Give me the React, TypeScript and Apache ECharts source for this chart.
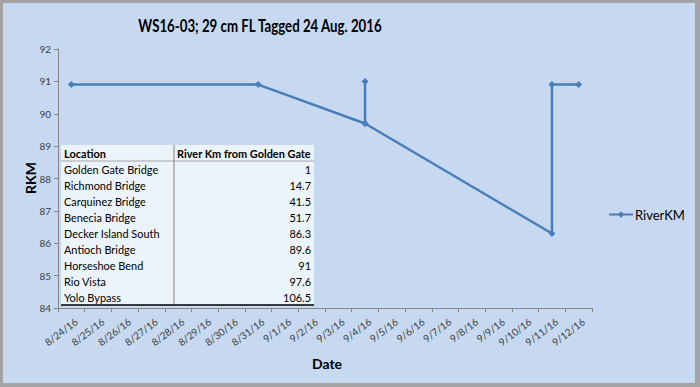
import React, { useEffect, useRef } from "react";
import * as echarts from "echarts";

const categories = [
  "8/24/16", "8/25/16", "8/26/16", "8/27/16", "8/28/16", "8/29/16", "8/30/16",
  "8/31/16", "9/1/16", "9/2/16", "9/3/16", "9/4/16", "9/5/16", "9/6/16",
  "9/7/16", "9/8/16", "9/9/16", "9/10/16", "9/11/16", "9/12/16",
];
const seriesDates = ["8/24/16", "8/31/16", "9/4/16", "9/4/16", "9/4/16", "9/11/16", "9/11/16", "9/12/16"];
const seriesValues = [90.9, 90.9, 89.7, 91.0, 89.7, 86.3, 90.9, 90.9];
const yTicks = { min: 84, max: 92, interval: 1 };

const tableHeader = ["Location", "River Km from Golden Gate"];
const locations = [
  "Golden Gate Bridge", "Richmond Bridge", "Carquinez Bridge", "Benecia Bridge",
  "Decker Island South", "Antioch Bridge", "Horseshoe Bend", "Rio Vista", "Yolo Bypass",
];
const riverKm = ["1", "14.7", "41.5", "51.7", "86.3", "89.6", "91", "97.6", "106.5"];

const FONT = "Lato, 'Open Sans', sans-serif";

export default function App() {
  const ref = useRef<HTMLDivElement>(null);
  useEffect(() => {
    if (!ref.current) return;
    const chart = echarts.init(ref.current, undefined, { renderer: "svg" });

    const tX = 61, tY = 145, tW = 253, rowH = 16, colX = 174;
    const tH = rowH * (locations.length + 1);
    const cellFont = `12px ${FONT}`;
    const headFont = `bold 12px ${FONT}`;
    const sx = 0.91;
    const tableEls: any[] = [
      { type: "rect", shape: { x: tX, y: tY, width: tW, height: tH }, style: { fill: "#ECF4FB" }, z: 10 },
      { type: "line", shape: { x1: tX, y1: tY + rowH, x2: tX + tW, y2: tY + rowH }, style: { stroke: "#A6A6A6", lineWidth: 1 }, z: 11 },
      { type: "line", shape: { x1: colX, y1: tY, x2: colX, y2: tY + tH }, style: { stroke: "#808080", lineWidth: 1 }, z: 11 },
      { type: "line", shape: { x1: tX, y1: tY + tH, x2: tX + tW, y2: tY + tH }, style: { stroke: "#000", lineWidth: 1.5 }, z: 11 },
      { type: "text", x: tX + 3, y: tY + rowH / 2, scaleX: sx, style: { text: tableHeader[0], font: headFont, fill: "#000", verticalAlign: "middle" }, z: 12 },
      { type: "text", x: colX + 3, y: tY + rowH / 2, scaleX: sx, style: { text: tableHeader[1], font: headFont, fill: "#000", verticalAlign: "middle" }, z: 12 },
    ];
    locations.forEach((loc, i) => {
      const cy = tY + rowH * (i + 1) + rowH / 2;
      tableEls.push({ type: "text", x: tX + 3, y: cy, scaleX: sx, style: { text: loc, font: cellFont, fill: "#000", verticalAlign: "middle" }, z: 12 });
      tableEls.push({ type: "text", x: tX + tW - 3, y: cy, scaleX: sx, style: { text: riverKm[i], font: cellFont, fill: "#000", verticalAlign: "middle", align: "right" }, z: 12 });
    });

    chart.setOption({
      animation: false,
      backgroundColor: "transparent",
      legend: {
        left: 603,
        top: 203,
        itemWidth: 24,
        itemHeight: 8,
        itemGap: 4,
        textStyle: { fontFamily: FONT, fontSize: 13, color: "#000", padding: [0, 0, 0, -3] },
        data: ["RiverKM"],
      },
      grid: { left: 58, right: 108, top: 49, bottom: 79, containLabel: false },
      xAxis: {
        type: "category",
        data: categories,
        boundaryGap: true,
        axisLine: { lineStyle: { color: "#868686" } },
        axisTick: { show: true, length: 4, lineStyle: { color: "#868686" } },
        axisLabel: {
          rotate: 37,
          fontSize: 10,
          color: "#404040",
          fontFamily: FONT,
          margin: 6,
          interval: 0,
          align: "right",
          verticalAlign: "top",
          padding: [3, 0, 0, 0],
        },
        splitLine: { show: false },
      },
      yAxis: {
        type: "value",
        min: yTicks.min,
        max: yTicks.max,
        interval: yTicks.interval,
        axisLine: { show: true, lineStyle: { color: "#868686" } },
        axisTick: { show: true, length: 4, lineStyle: { color: "#868686" } },
        axisLabel: { fontSize: 10, color: "#404040", fontFamily: FONT, margin: 7 },
        splitLine: { show: false },
      },
      graphic: [
        { type: "text", x: 260, y: 25, scaleX: 0.78, style: { text: "WS16-03; 29 cm FL Tagged 24 Aug. 2016", font: `bold 17px ${FONT}`, fill: "#000", align: "center", verticalAlign: "middle" } },
        { type: "text", x: 30, y: 178, rotation: Math.PI / 2, style: { text: "RKM", font: `bold 14px ${FONT}`, fill: "#000", align: "center", verticalAlign: "middle" } },
        { type: "text", x: 327, y: 363, style: { text: "Date", font: `bold 14px ${FONT}`, fill: "#000", align: "center", verticalAlign: "middle" } },
        ...tableEls,
      ],
      series: [
        {
          name: "RiverKM",
          type: "line",
          data: seriesDates.map((d, i) => [d, seriesValues[i]]),
          symbol: "diamond",
          symbolSize: 7,
          showAllSymbol: true,
          lineStyle: { color: "#4A7EBB", width: 2.5 },
          itemStyle: { color: "#4A7EBB" },
          z: 5,
        },
      ],
    });
    return () => chart.dispose();
  }, []);

  return (
    <div style={{ position: "fixed", left: 0, top: 0, width: 700, height: 387, background: "#A3A3A3" }}>
      <div style={{ position: "absolute", left: 3, top: 3, width: 692, height: 380, background: "#C6D9F1" }} />
      <div ref={ref} style={{ position: "absolute", left: 0, top: 0, width: 700, height: 387 }} />
    </div>
  );
}
